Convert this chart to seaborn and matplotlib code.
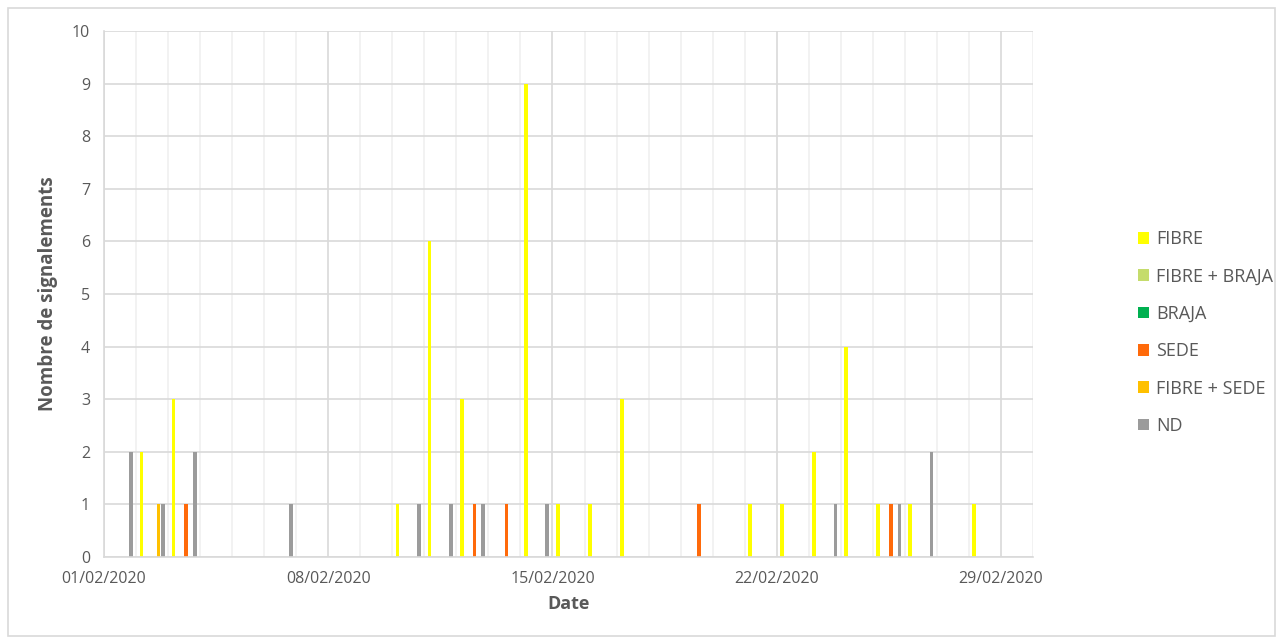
import matplotlib
matplotlib.use("Agg")
import matplotlib.pyplot as plt
import matplotlib.patches as mpatches
import seaborn as sns
import pandas as pd

# ---- data ----
day_index = list(range(28))  # 01/02/2020 .. 28/02/2020
series_names = ["FIBRE", "FIBRE + BRAJA", "BRAJA", "SEDE", "FIBRE + SEDE", "ND"]
fibre       = [0, 2, 3, 0, 0, 0, 0, 0, 0, 1, 6, 3, 0, 9, 1, 1, 3, 0, 0, 0, 1, 1, 2, 4, 1, 1, 0, 1]
fibre_braja = [0] * 28
braja       = [0] * 28
sede        = [0, 0, 1, 0, 0, 0, 0, 0, 0, 0, 0, 1, 1, 0, 0, 0, 0, 0, 1, 0, 0, 0, 0, 0, 1, 0, 0, 0]
fibre_sede  = [0, 1, 0, 0, 0, 0, 0, 0, 0, 0, 0, 0, 0, 0, 0, 0, 0, 0, 0, 0, 0, 0, 0, 0, 0, 0, 0, 0]
nd          = [2, 1, 2, 0, 0, 1, 0, 0, 0, 1, 1, 1, 0, 1, 0, 0, 0, 0, 0, 0, 0, 0, 1, 0, 1, 2, 0, 0]
x_tick_days = [0, 7, 14, 21, 28]
x_tick_labels = ["01/02/2020", "08/02/2020", "15/02/2020", "22/02/2020", "29/02/2020"]
colors = ["#FFFF00", "#C5DC6C", "#00B050", "#FF6A0A", "#FFC000", "#9B9B9B"]

values = [fibre, fibre_braja, braja, sede, fibre_sede, nd]
rows = []
for name, vals in zip(series_names, values):
    for d, v in zip(day_index, vals):
        rows.append({"day": d + 0.5, "serie": name, "n": v})
df = pd.DataFrame(rows)

# ---- plot ----
sns.set_theme(style="white")
plt.rcParams["font.family"] = ["Open Sans", "DejaVu Sans"]

fig = plt.figure(figsize=(12.82, 6.44), dpi=100)
ax = fig.add_axes([104 / 1282, 87 / 644, 929 / 1282, 526 / 644])

sns.barplot(data=df, x="day", y="n", hue="serie", hue_order=series_names,
            palette=colors, saturation=1, native_scale=True, dodge=True, width=0.8, gap=0.15,
            errorbar=None, linewidth=0, ax=ax, legend=False)

ax.set_xlim(0, 29)
ax.set_ylim(0, 10)
ax.set_yticks(range(0, 11))
ax.set_xticks(x_tick_days)
ax.set_xticklabels(x_tick_labels)
ax.set_xticks(range(0, 30), minor=True)

ax.set_axisbelow(True)
ax.grid(which="minor", axis="x", color="#F0F0F0", linewidth=1.2)
ax.grid(which="major", axis="x", color="#D9D9D9", linewidth=1.2)
ax.grid(which="major", axis="y", color="#D9D9D9", linewidth=1.2)

for s in ["top", "right"]:
    ax.spines[s].set_visible(False)
for s in ["left", "bottom"]:
    ax.spines[s].set_color("#D9D9D9")
    ax.spines[s].set_linewidth(1.2)

ax.tick_params(axis="x", which="major", direction="out", length=6, color="#D9D9D9",
               width=1.2, labelsize=11.5, labelcolor="#595959", pad=4)
ax.tick_params(axis="x", which="minor", length=0)
ax.tick_params(axis="y", length=0, labelsize=11.5, labelcolor="#595959", pad=10)

ax.set_xlabel("Date", fontsize=13, fontweight="bold", color="#595959", labelpad=6)
ax.set_ylabel("Nombre de signalements", fontsize=13.5, fontweight="bold", color="#595959", labelpad=10)

handles = [mpatches.Patch(facecolor=c, edgecolor="none", label=n) for n, c in zip(series_names, colors)]
leg = fig.legend(handles=handles, loc="upper left", bbox_to_anchor=(1122 / 1282, 1 - 214 / 644),
                 frameon=False, fontsize=13, labelspacing=1.07, handlelength=0.6,
                 handleheight=0.6, handletextpad=0.4)
for t in leg.get_texts():
    t.set_color("#595959")

fig.add_artist(mpatches.Rectangle((8 / 1282, 8 / 644), 1267 / 1282, 628 / 644,
                                  transform=fig.transFigure, fill=False,
                                  edgecolor="#D9D9D9", linewidth=1.2))

fig.savefig("out.png", dpi=100)
